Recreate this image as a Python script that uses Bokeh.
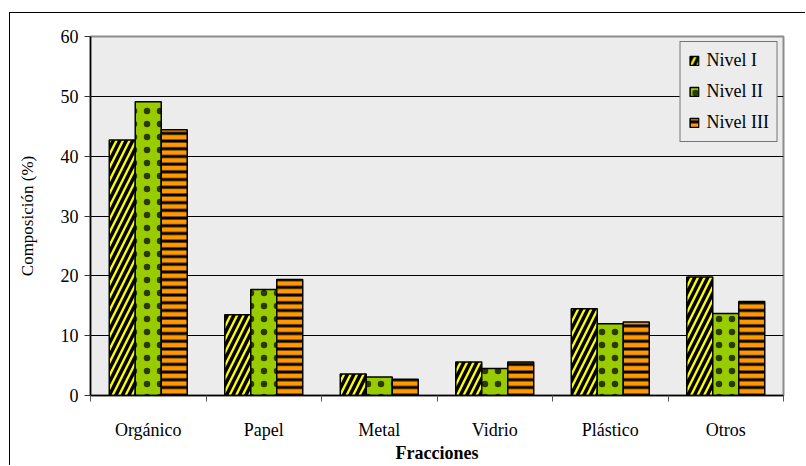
from bokeh.plotting import figure
from bokeh.models import ColumnDataSource, FixedTicker, Range1d, Legend, LegendItem
from bokeh.transform import dodge
from bokeh.embed import file_html
from bokeh.resources import INLINE

# Composition of waste fractions (%) by level
fracciones = ["Orgánico", "Papel", "Metal", "Vidrio", "Plástico", "Otros"]
nivel_1 = [42.7, 13.5, 3.6, 5.6, 14.5, 19.8]
nivel_2 = [49.1, 17.7, 3.1, 4.5, 12.0, 13.7]
nivel_3 = [44.4, 19.4, 2.7, 5.6, 12.3, 15.7]
series_names = ["Nivel I", "Nivel II", "Nivel III"]
y_ticks = [0, 10, 20, 30, 40, 50, 60]

centers = [i + 0.5 for i in range(len(fracciones))]
bounds = list(range(len(fracciones) + 1))
source = ColumnDataSource(dict(x=centers, n1=nivel_1, n2=nivel_2, n3=nivel_3))

SERIF = "Liberation Serif"

p = figure(
    width=796, height=453,
    x_range=Range1d(0, len(fracciones)), y_range=Range1d(0, 60),
    output_backend="svg", toolbar_location=None,
    min_border_left=80, min_border_right=23, min_border_top=23, min_border_bottom=71,
)
p.styles = {"margin-left": "9px", "margin-top": "12px",
            "border-left": "1px solid black", "border-top": "1px solid black"}

p.background_fill_color = "#ececec"
p.border_fill_color = "white"
p.outline_line_color = "#8c8c8c"
p.outline_line_width = 2

bw = 0.225
r1 = p.vbar(x=dodge("x", -bw, range=p.x_range), top="n1", width=bw, source=source,
            fill_color="#ffff00", line_color="black", line_width=1.5,
            hatch_pattern="right_diagonal_line", hatch_color="black",
            hatch_weight=3.5, hatch_scale=13)
r2 = p.vbar(x=dodge("x", 0, range=p.x_range), top="n2", width=bw, source=source,
            fill_color="#99cc00", line_color="black", line_width=1.5,
            hatch_pattern="dot", hatch_color="#2b3a00",
            hatch_weight=1, hatch_scale=13)
r3 = p.vbar(x=dodge("x", bw, range=p.x_range), top="n3", width=bw, source=source,
            fill_color="#ff9900", line_color="black", line_width=1.5,
            hatch_pattern="horizontal_line", hatch_color="black",
            hatch_weight=3, hatch_scale=7.7)

# x axis: labels at category centres, tick marks at category boundaries
xa = p.xaxis[0]
xa.ticker = FixedTicker(ticks=centers, minor_ticks=bounds)
xa.major_label_overrides = {c: f for c, f in zip(centers, fracciones)}
xa.major_tick_line_color = None
xa.major_tick_out = 0
xa.minor_tick_in = 0
xa.minor_tick_out = 6
xa.minor_tick_line_color = "#555555"
xa.axis_line_color = "black"
xa.axis_line_width = 1.5
xa.major_label_text_font = SERIF
xa.major_label_text_font_size = "18px"
xa.major_label_text_color = "black"
xa.major_label_standoff = 18
xa.axis_label = "Fracciones"
xa.axis_label_text_font = SERIF
xa.axis_label_text_font_style = "bold"
xa.axis_label_text_font_size = "18px"
xa.axis_label_text_color = "black"
xa.axis_label_standoff = 0

ya = p.yaxis[0]
ya.ticker = FixedTicker(ticks=y_ticks)
ya.minor_tick_line_color = None
ya.major_tick_in = 0
ya.major_tick_out = 6
ya.major_tick_line_color = "#333333"
ya.axis_line_color = "black"
ya.axis_line_width = 1.5
ya.major_label_text_font = SERIF
ya.major_label_text_font_size = "18px"
ya.major_label_text_color = "black"
ya.major_label_standoff = 6
ya.axis_label = "Composición (%)"
ya.axis_label_text_font = SERIF
ya.axis_label_text_font_style = "normal"
ya.axis_label_text_font_size = "17px"
ya.axis_label_text_color = "black"
ya.axis_label_standoff = 21

p.xgrid.grid_line_color = None
p.ygrid.ticker = FixedTicker(ticks=y_ticks)
p.ygrid.grid_line_color = "black"
p.ygrid.grid_line_width = 1

legend = Legend(
    items=[LegendItem(label=n, renderers=[r]) for n, r in zip(series_names, [r1, r2, r3])],
    location="top_right", margin=5, padding=8, spacing=10,
    glyph_width=11, glyph_height=11, label_height=21, label_standoff=7,
    label_text_font=SERIF, label_text_font_size="18px", label_text_color="black",
    border_line_color="black", border_line_width=1,
    background_fill_color="#ececec", background_fill_alpha=1,
)
p.add_layout(legend)

open("out.html", "w").write(file_html(p, INLINE))
